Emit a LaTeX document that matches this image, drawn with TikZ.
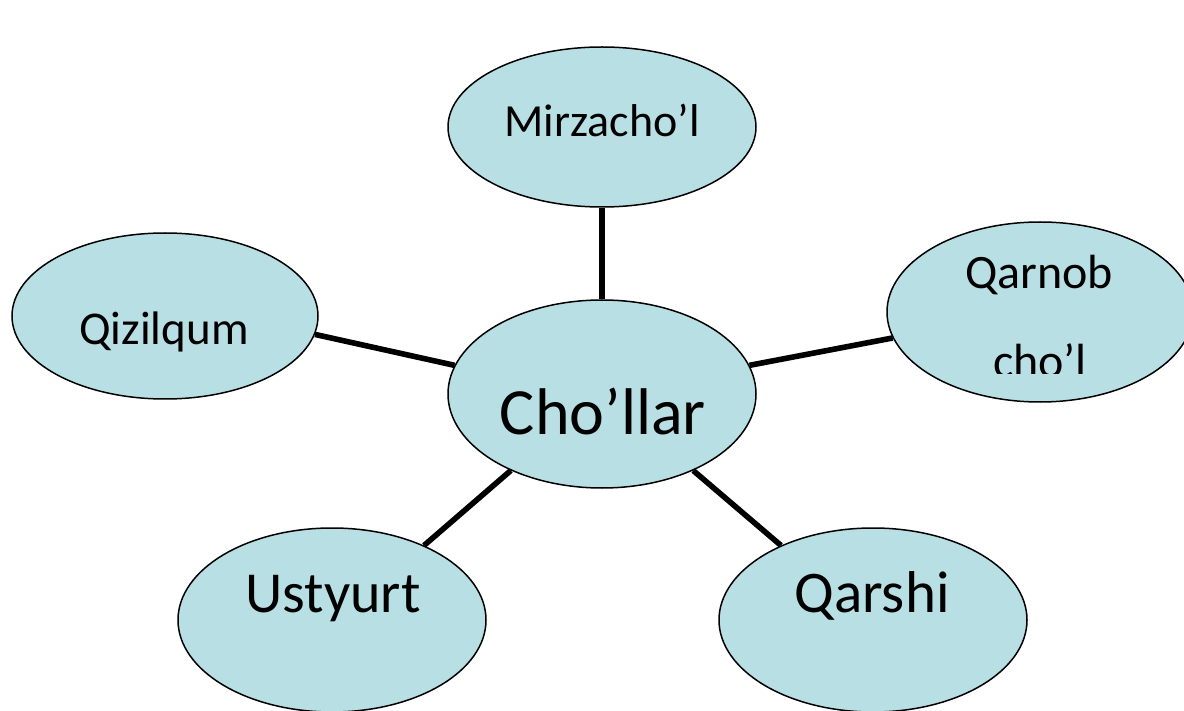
\documentclass[tikz,border=0pt]{standalone}
\usepackage{fontspec}
\setmainfont{Carlito}
\usetikzlibrary{shapes.geometric}
\definecolor{bubble}{HTML}{B8DFE3}
\tikzset{
  bub/.style={ellipse, draw=black, line width=0.75pt, fill=bubble, inner sep=0pt},
  conn/.style={draw=black, line width=2.8pt},
  lbl/.style={anchor=base, inner sep=0pt, text=black},
}
\begin{document}
\begin{tikzpicture}[x=0.5pt, y=-0.5pt]
\useasboundingbox (0,0) rectangle (1184,711);
\clip (0,0) rectangle (1184,711);
% bubbles
\node[bub, minimum width=154pt, minimum height=80pt] (mirz) at (602,127) {};
\node[bub, minimum width=153pt, minimum height=83pt] (qizil) at (165,316) {};
\node[bub, minimum width=153pt, minimum height=90pt] (qarnob) at (1040,312) {};
\node[bub, minimum width=154pt, minimum height=92pt] (ust) at (332,620) {};
\node[bub, minimum width=154pt, minimum height=92pt] (qarshi) at (873,620) {};
\node[bub, minimum width=154pt, minimum height=94pt] (chol) at (602,394) {};
% connectors
\draw[conn] (mirz.270) -- (chol.90);
\draw[conn] (qizil.-7) -- (chol.169);
\draw[conn] (qarnob.190) -- (chol.11);
\draw[conn] (ust.39) -- (chol.220);
\draw[conn] (qarshi.141) -- (chol.-40);
% labels
\node[lbl, font=\fontsize{23}{27}\selectfont] (tmirz) at (602,137) {Mirzacho’l};
\node[lbl, font=\fontsize{23.5}{28}\selectfont] (tqizil) at (164,344) {Qizilqum};
\node[lbl, font=\fontsize{33}{40}\selectfont] (tchol) at (603,435) {Cho’llar};
\node[lbl, font=\fontsize{24}{28}\selectfont] (tqarnob) at (1039,289) {Qarnob};
\begin{scope}
\clip (880,330) rectangle (1184,374);
\node[lbl, font=\fontsize{24}{28}\selectfont] (tchol2) at (1040,378) {cho’l};
\end{scope}
\node[lbl, font=\fontsize{29}{34}\selectfont] (tust) at (333,612) {Ustyurt};
\node[lbl, font=\fontsize{29.5}{34}\selectfont] (tqarshi) at (872,612) {Qarshi};
\end{tikzpicture}
\end{document}
